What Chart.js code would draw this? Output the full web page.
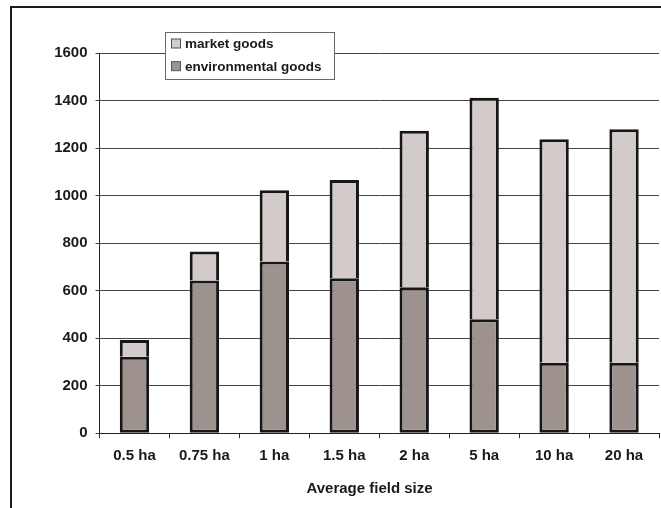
<!DOCTYPE html>
<html>
<head>
<meta charset="utf-8">
<script src="https://cdn.jsdelivr.net/npm/chart.js@4/dist/chart.umd.min.js"></script>
<style>
  html, body { margin: 0; padding: 0; background: #ffffff; }
  #wrap { width: 661px; height: 508px; }
</style>
</head>
<body>
<div id="wrap"><canvas id="chart" width="661" height="508"></canvas></div>
<script>
// Field size classes
const categories = ['0.5 ha', '0.75 ha', '1 ha', '1.5 ha', '2 ha', '5 ha', '10 ha', '20 ha'];
// Value of environmental goods (lower part of each bar)
const environmentalGoods = [322, 643, 723, 653, 615, 480, 297, 297];
// Value of market goods (stacked on top)
const marketGoods = [71, 123, 300, 414, 659, 933, 941, 983];
// Y axis ticks
const yTicks = [0, 200, 400, 600, 800, 1000, 1200, 1400, 1600];
const xAxisTitle = 'Average field size';

const FONT = "'Liberation Sans', Arial, Helvetica, sans-serif";
const COL_MARKET = '#d3cbc9';
const COL_ENV = '#9e928e';

// Outer frame around the figure
const framePlugin = {
  id: 'frame',
  beforeDraw(chart) {
    const ctx = chart.ctx;
    ctx.save();
    ctx.fillStyle = '#ffffff';
    ctx.fillRect(0, 0, chart.width, chart.height);
    ctx.strokeStyle = '#1a1a1a';
    ctx.lineWidth = 2;
    ctx.strokeRect(11, 7, 700, 560);
    ctx.restore();
  }
};

// Axis title under the category labels
const axisTitle = {
  id: 'axisTitle',
  afterDraw(chart) {
    const ctx = chart.ctx;
    ctx.save();
    ctx.font = 'bold 15px ' + FONT;
    ctx.fillStyle = '#1a1a1a';
    ctx.textAlign = 'center';
    ctx.textBaseline = 'middle';
    ctx.fillText(xAxisTitle, 369.5, 488.5);
    ctx.restore();
  }
};

// Boxed legend placed inside the plot, market goods listed first
const boxLegend = {
  id: 'boxLegend',
  afterDraw(chart) {
    const ctx = chart.ctx;
    const items = chart.data.datasets.slice().reverse();
    ctx.save();
    ctx.fillStyle = '#ffffff';
    ctx.fillRect(165.5, 32.5, 169, 47);
    ctx.strokeStyle = '#6a6a6a';
    ctx.lineWidth = 1;
    ctx.strokeRect(165.5, 32.5, 169, 47);
    ctx.font = 'bold 13.5px ' + FONT;
    ctx.textBaseline = 'middle';
    items.forEach((ds, i) => {
      const y = 43.5 + i * 22.7;
      ctx.fillStyle = ds.backgroundColor;
      ctx.fillRect(171.5, y - 4.5, 9, 9);
      ctx.strokeStyle = '#555555';
      ctx.strokeRect(171.5, y - 4.5, 9, 9);
      ctx.fillStyle = '#1a1a1a';
      ctx.fillText(ds.label, 185, y + 1);
    });
    ctx.restore();
  }
};

new Chart(document.getElementById('chart'), {
  type: 'bar',
  data: {
    labels: categories,
    datasets: [
      {
        label: 'environmental goods',
        data: environmentalGoods,
        backgroundColor: COL_ENV,
        borderColor: '#161616',
        borderWidth: 3,
        borderSkipped: false,
        categoryPercentage: 1,
        barPercentage: 0.42
      },
      {
        label: 'market goods',
        data: marketGoods,
        backgroundColor: COL_MARKET,
        borderColor: '#161616',
        borderWidth: 3,
        borderSkipped: 'bottom',
        categoryPercentage: 1,
        barPercentage: 0.42
      }
    ]
  },
  options: {
    responsive: false,
    animation: false,
    devicePixelRatio: 1,
    layout: { padding: { left: 0, right: 2, top: 53.3, bottom: 0 } },
    plugins: {
      legend: { display: false },
      tooltip: { enabled: false }
    },
    scales: {
      x: {
        stacked: true,
        grid: {
          offset: true,
          drawOnChartArea: false,
          color: '#333333',
          tickLength: 5,
          lineWidth: 1
        },
        border: { color: '#222222', width: 1 },
        ticks: {
          color: '#1a1a1a',
          font: { family: FONT, size: 15, weight: 'bold' },
          padding: 9,
          maxRotation: 0
        },
        afterFit(scale) { scale.height = 74.7; }
      },
      y: {
        stacked: true,
        min: 0,
        max: 1600,
        afterBuildTicks(scale) { scale.ticks = yTicks.map(v => ({ value: v })); },
        grid: {
          color: '#444444',
          lineWidth: 1,
          tickLength: 4
        },
        border: { color: '#222222', width: 1 },
        ticks: {
          color: '#1a1a1a',
          font: { family: FONT, size: 15, weight: 'bold' },
          padding: 8,
          callback: (v) => String(v)
        },
        afterFit(scale) { scale.width = 99.5; }
      }
    }
  },
  plugins: [framePlugin, boxLegend, axisTitle]
});
</script>
</body>
</html>
